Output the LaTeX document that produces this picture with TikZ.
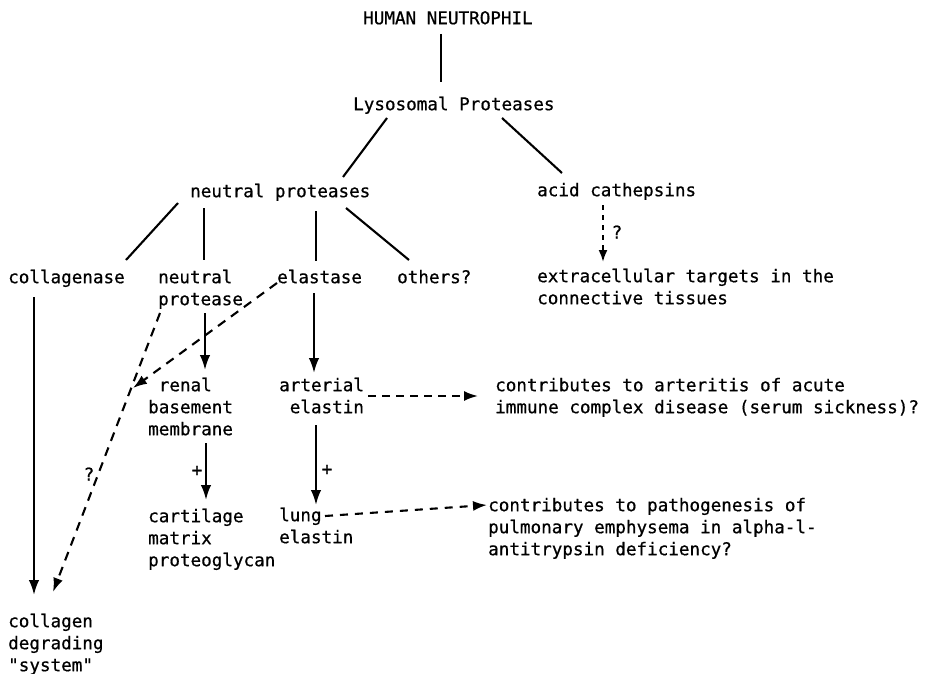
\documentclass[tikz,border=0pt]{standalone}
\usepackage{fontspec}
\newfontfamily\tfont[FakeBold=0.7]{DejaVu Sans Mono}
\usetikzlibrary{arrows.meta}
\newcommand\mystrut{\rule{0pt}{13.5pt}}
\begin{document}
\begin{tikzpicture}[x=1pt,y=-1pt,
  txt/.style={anchor=north west, inner sep=0pt, align=left, font=\tfont\fontsize{17.6}{22}\selectfont},
  lbl/.style={inner sep=0pt, font=\tfont\fontsize{17.6}{22}\selectfont},
  ln/.style={line width=2.1pt},
  arr/.style={line width=2.1pt,-{Latex[length=15pt,width=10.5pt]}},
  darr/.style={line width=2.1pt,dash pattern=on 9pt off 7pt,-{Latex[length=14pt,width=10pt]}},
  sarr/.style={line width=2.1pt,dash pattern=on 5pt off 5pt,-{Latex[length=12pt,width=9pt]}}]
\useasboundingbox (0,0) rectangle (931,674);
% nodes
\node[txt] (hn) at (363,10.5) {\mystrut HUMAN NEUTROPHIL};
\node[txt] (lp) at (353,96.5) {\mystrut Lysosomal Proteases};
\node[txt] (np) at (190,183.5) {\mystrut neutral proteases};
\node[txt] (ac) at (537,182.5) {\mystrut acid cathepsins};
\node[txt] (col) at (8,269.5) {\mystrut collagenase};
\node[txt] (npr) at (158,269.5) {\mystrut neutral\\protease};
\node[txt] (ela) at (277,269.5) {\mystrut elastase};
\node[txt] (oth) at (397,269.5) {\mystrut others?};
\node[txt] (ext) at (537,268.5) {\mystrut extracellular targets in the\\connective tissues};
\node[txt] (ren) at (148,377.5) {\mystrut\hphantom{r}renal\\basement\\membrane};
\node[txt] (art) at (279,377.5) {\mystrut arterial\\\hphantom{e}elastin};
\node[txt] (cont1) at (495,377.5) {\mystrut contributes to arteritis of acute\\immune complex disease (serum sickness)?};
\node[txt] (cart) at (148,508.5) {\mystrut cartilage\\matrix\\proteoglycan};
\node[txt] (lung) at (279,507.5) {\mystrut lung\\elastin};
\node[txt] (cont2) at (488,497.5) {\mystrut contributes to pathogenesis of\\pulmonary emphysema in alpha-l-\\antitrypsin deficiency?};
\node[txt] (cdg) at (8,613.5) {\mystrut collagen\\degrading\\"system"};
% tree lines
\draw[ln] ([shift={(78,23.5)}]hn.north west) -- ([shift={(88,-14.5)}]lp.north west);
\draw[ln] ([shift={(34,21.5)}]lp.north west) -- ([shift={(153,-6.5)}]np.north west);
\draw[ln] ([shift={(149,21.5)}]lp.north west) -- ([shift={(25,-9.5)}]ac.north west);
\draw[ln] ([shift={(-12,19.5)}]np.north west) -- ([shift={(118,-9.5)}]col.north west);
\draw[ln] ([shift={(14,24.5)}]np.north west) -- ([shift={(46,-9.5)}]npr.north west);
\draw[ln] ([shift={(126,27.5)}]np.north west) -- ([shift={(39,-8.5)}]ela.north west);
\draw[ln] ([shift={(156,24.5)}]np.north west) -- ([shift={(12,-9.5)}]oth.north west);
% arrows
\draw[sarr] ([shift={(66,22.5)}]ac.north west) -- ([shift={(66,-6.5)}]ext.north west);
\node[lbl] (q1) at (617,232) {?};
\draw[arr] ([shift={(26,27.5)}]col.north west) -- ([shift={(26,-18.5)}]cdg.north west);
\draw[arr] ([shift={(47,43.5)}]npr.north west) -- ([shift={(57,-7.5)}]ren.north west);
\draw[darr] ([shift={(2,43.5)}]npr.north west) -- ([shift={(45,-21.5)}]cdg.north west);
\node[lbl] (q2) at (89,474) {?};
\draw[darr] ([shift={(0,13.5)}]ela.north west) -- ([shift={(-15,10.5)}]ren.north west);
\draw[arr] ([shift={(58,65.5)}]ren.north west) -- ([shift={(58,-8.5)}]cart.north west);
\node[lbl] (p1) at (197,471) {+};
\draw[arr] ([shift={(37,23.5)}]ela.north west) -- ([shift={(35,-4.5)}]art.north west);
\draw[arr] ([shift={(37,47.5)}]art.north west) -- ([shift={(37,-2.5)}]lung.north west);
\node[lbl] (p2) at (327,470) {+};
\draw[darr,dash pattern=on 8pt off 6pt] ([shift={(89,18.5)}]art.north west) -- ([shift={(-17,18.5)}]cont1.north west);
\draw[darr,dash pattern=on 8pt off 7pt] ([shift={(46,8.5)}]lung.north west) -- ([shift={(-1,7.5)}]cont2.north west);
\end{tikzpicture}
\end{document}
